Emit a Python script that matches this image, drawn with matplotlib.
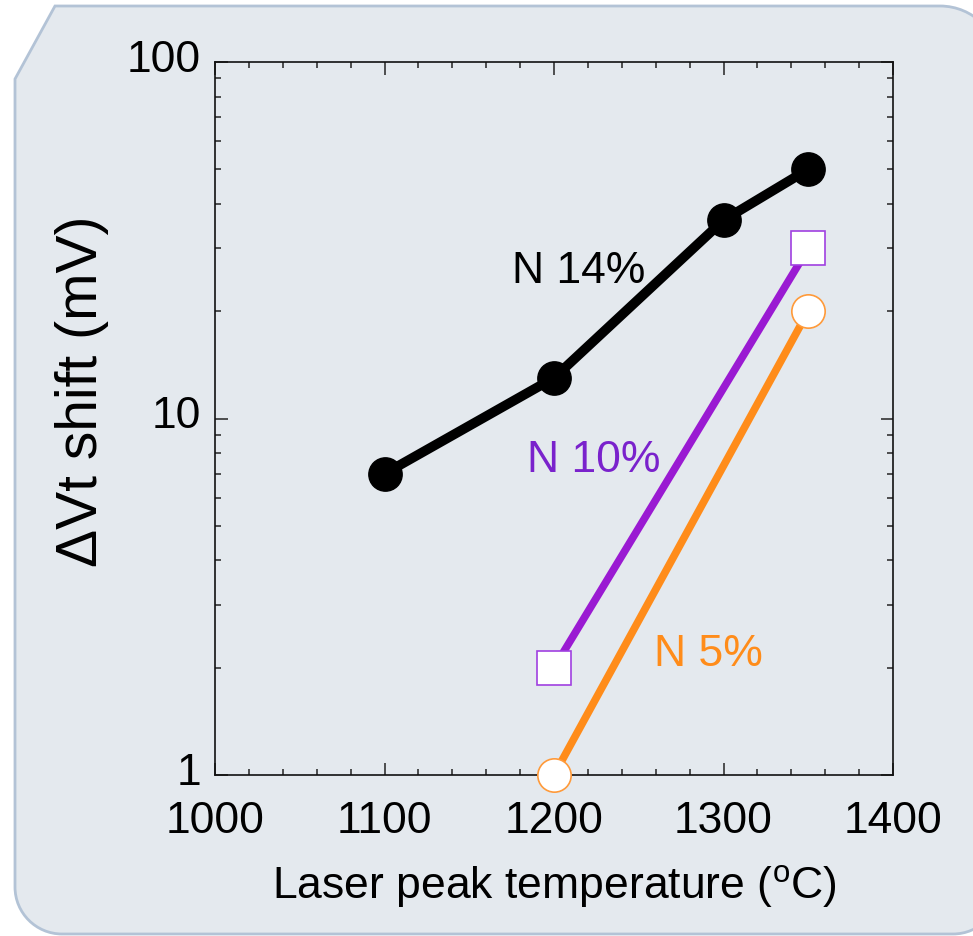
import matplotlib
matplotlib.use("Agg")
import matplotlib.pyplot as plt
from matplotlib.path import Path
from matplotlib.patches import PathPatch
from matplotlib.transforms import ScaledTranslation
from matplotlib.ticker import LogLocator, MultipleLocator, FixedLocator, NullFormatter

plt.rcParams['font.family'] = ['Liberation Sans', 'DejaVu Sans']
plt.rcParams['mathtext.fontset'] = 'custom'
plt.rcParams['mathtext.rm'] = 'Liberation Sans'

# Vt shift vs laser peak temperature for three nitrogen contents
temp_n14 = [1100, 1200, 1300, 1350]
shift_n14 = [7.0, 13.0, 36.0, 50.0]
temp_n10 = [1200, 1350]
shift_n10 = [2.0, 30.0]
temp_n5 = [1200, 1350]
shift_n5 = [1.0, 20.0]

series_labels = ["N 14%", "N 10%", "N 5%"]
x_ticks = [1000, 1100, 1200, 1300, 1400]
y_ticks = [1, 10, 100]
y_tick_labels = ["1", "10", "100"]

W, H = 973, 937
fig = plt.figure(figsize=(W / 100, H / 100), dpi=100)
fig.patch.set_facecolor('white')

# Background panel: clipped top-left corner, rounded other corners
def P(x, y):
    return (x / W, 1 - y / H)

k = 0.5523
L, T, R, B = 15, 7, 1000, 935
r_tr, r_b = 60, 47
verts = [
    P(L, 80), P(55, T), P(R - r_tr, T),
    P(R - r_tr + k * r_tr, T), P(R, T + r_tr - k * r_tr), P(R, T + r_tr),
    P(R, B - r_b),
    P(R, B - r_b + k * r_b), P(R - r_b + k * r_b, B), P(R - r_b, B),
    P(L + r_b, B),
    P(L + r_b - k * r_b, B), P(L, B - r_b + k * r_b), P(L, B - r_b),
    P(L, 80),
]
codes = [Path.MOVETO, Path.LINETO, Path.LINETO,
         Path.CURVE4, Path.CURVE4, Path.CURVE4,
         Path.LINETO,
         Path.CURVE4, Path.CURVE4, Path.CURVE4,
         Path.LINETO,
         Path.CURVE4, Path.CURVE4, Path.CURVE4,
         Path.CLOSEPOLY]
panel = PathPatch(Path(verts, codes), transform=fig.transFigure,
                  facecolor='#e4e9ee', edgecolor='#b3c3d6', linewidth=2.0,
                  clip_on=False, zorder=-10)
fig.patches.append(panel)

ax = fig.add_axes([215 / W, 1 - 776 / H, 678 / W, 713 / H])
ax.set_facecolor('none')
ax.set_zorder(1)

black = '#000000'
purple = '#9a1ad2'
purple_text = '#7a22cc'
orange = '#ff8c1a'

ax.plot(temp_n14, shift_n14, color=black, lw=7, marker='o', ms=24,
        mfc=black, mec=black, zorder=3, solid_capstyle='butt')
ax.plot(temp_n10, shift_n10, color=purple, lw=5.5, marker='s', ms=24,
        mfc='white', mec='#a040e0', mew=1.2, zorder=3)
ax.plot(temp_n5, shift_n5, color=orange, lw=5.5, marker='o', ms=24,
        mfc='white', mec='#ff9a3a', mew=1.2, zorder=3, clip_on=False)

ax.set_yscale('log')
ax.set_xlim(1000, 1400)
ax.set_ylim(1, 100)

ax.xaxis.set_major_locator(FixedLocator(x_ticks))
ax.xaxis.set_minor_locator(MultipleLocator(20))
ax.yaxis.set_major_locator(FixedLocator(y_ticks))
ax.set_yticklabels(y_tick_labels)
ax.yaxis.set_minor_locator(LogLocator(base=10, subs=range(2, 10)))
ax.yaxis.set_minor_formatter(NullFormatter())

ax.tick_params(which='both', direction='in', top=True, right=True,
               colors='#333333', labelcolor='black', labelsize=32)
ax.tick_params(which='major', length=9, width=1.2)
ax.tick_params(which='minor', length=4.5, width=1.2)
ax.tick_params(axis='x', which='major', pad=18)
ax.tick_params(axis='y', which='major', pad=10)
for s in ax.spines.values():
    s.set_linewidth(1.2)
    s.set_color('#111111')

# y tick labels sit slightly above their ticks
lift = ScaledTranslation(0, 7 / 100, fig.dpi_scale_trans)
for lbl in ax.get_yticklabels():
    lbl.set_transform(lbl.get_transform() + lift)

ax.set_xlabel(r"Laser peak temperature ($^{\mathregular{o}}$C)", fontsize=32, labelpad=15)
ax.set_ylabel("\u0394Vt shift (mV)", fontsize=41)
ax.yaxis.set_label_coords(-0.196, 0.54)
ax.yaxis.label.set_va('center')

ax.text(1214.7, 26.0, series_labels[0], color=black, fontsize=32, ha='center', va='center')
ax.text(1223.6, 7.67, series_labels[1], color=purple_text, fontsize=32, ha='center', va='center')
ax.text(1290.9, 2.19, series_labels[2], color=orange, fontsize=32, ha='center', va='center')

fig.savefig('out.png', dpi=100, facecolor='white')
